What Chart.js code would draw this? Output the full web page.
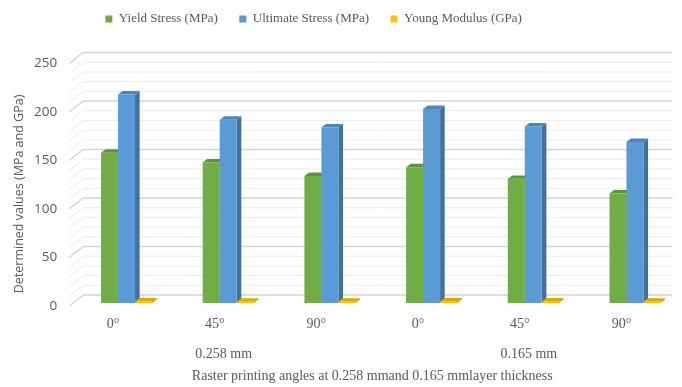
<!DOCTYPE html>
<html>
<head>
<meta charset="utf-8">
<script src="https://cdn.jsdelivr.net/npm/chart.js@4"></script>
<style>
  html, body { margin: 0; padding: 0; background: #ffffff; }
  #wrap { width: 682px; height: 387px; position: relative; }
</style>
</head>
<body>
<div id="wrap"><canvas id="chart"></canvas></div>
<script>
// Raster angle categories and the layer thickness each group belongs to
const angles = ['0°', '45°', '90°', '0°', '45°', '90°'];
const thicknessLabels = ['', '0.258 mm', '', '', '0.165 mm', ''];

// Measured values per specimen
const yieldStress = [155, 145, 131, 140, 128, 113];
const ultimateStress = [215, 189, 181, 200, 182, 166];
const youngModulus = [1.6, 1.5, 1.5, 1.7, 1.6, 1.5];

const seriesNames = ['Yield Stress (MPa)', 'Ultimate Stress (MPa)', 'Young Modulus (GPa)'];

// Value axis range and gridline spacing
const yMin = 0, yMax = 250, yMajorStep = 50, yMinorStep = 10;

const TEXT = '#595959';
const SERIF = "'Liberation Serif', serif";
const SANS = "'Open Sans', sans-serif";

// Depth of the 3-D columns and of the back wall
const BAR_DX = 4.6, BAR_DY = 3.4;
const WALL_DX = 14, WALL_FRONT = 3, WALL_BACK = 8, WALL_RIGHT = 672.5;

// Back wall gridlines plus the side/top faces of each column
const depthPlugin = {
  id: 'columnDepth',
  beforeDatasetsDraw(chart) {
    const ctx = chart.ctx;
    const ys = chart.scales.y;
    const area = chart.chartArea;
    ctx.save();
    for (let v = yMin; v <= yMax; v += yMinorStep) {
      const y = ys.getPixelForValue(v);
      const major = v % yMajorStep === 0;
      ctx.strokeStyle = major ? '#d4d4d4' : '#ebebeb';
      ctx.lineWidth = major ? 1.4 : 1;
      const fx = area.left + 2, fy = y + WALL_FRONT;
      const bx = fx + WALL_DX, by = y - WALL_BACK;
      ctx.beginPath();
      ctx.moveTo(fx, fy);
      ctx.lineTo(bx, by);
      ctx.lineTo(WALL_RIGHT, by);
      ctx.stroke();
    }
    chart.data.datasets.forEach((ds, i) => {
      if (!ds.sideColor) return;
      const meta = chart.getDatasetMeta(i);
      meta.data.forEach(bar => {
        const p = bar.getProps(['x', 'y', 'base', 'width'], true);
        const l = p.x - p.width / 2, r = p.x + p.width / 2;
        ctx.fillStyle = ds.sideColor;
        ctx.beginPath();
        ctx.moveTo(r, p.y);
        ctx.lineTo(r + BAR_DX, p.y - BAR_DY);
        ctx.lineTo(r + BAR_DX, p.base - BAR_DY);
        ctx.lineTo(r, p.base);
        ctx.closePath();
        ctx.fill();
        ctx.fillStyle = ds.topColor;
        ctx.beginPath();
        ctx.moveTo(l, p.y);
        ctx.lineTo(l + BAR_DX, p.y - BAR_DY);
        ctx.lineTo(r + BAR_DX, p.y - BAR_DY);
        ctx.lineTo(r, p.y);
        ctx.closePath();
        ctx.fill();
      });
    });
    ctx.restore();
  }
};

new Chart(document.getElementById('chart'), {
  type: 'bar',
  data: {
    labels: angles,
    datasets: [
      { label: '', data: angles.map(() => null), backgroundColor: 'rgba(0,0,0,0)' },
      { label: seriesNames[0], data: yieldStress, backgroundColor: '#70ad47', sideColor: '#4f7d31', topColor: '#5e9439' },
      { label: seriesNames[1], data: ultimateStress, backgroundColor: '#5b9bd5', sideColor: '#41719c', topColor: '#4a85bd' },
      { label: seriesNames[2], data: youngModulus, backgroundColor: '#ffc000', sideColor: '#c69500', topColor: '#e0a900' }
    ]
  },
  options: {
    responsive: true,
    maintainAspectRatio: false,
    animation: false,
    layout: { padding: { left: -50, right: 4.7, top: -9, bottom: 0 } },
    datasets: { bar: { categoryPercentage: 0.6686, barPercentage: 1, borderWidth: 0, xAxisID: 'x', yAxisID: 'y' } },
    plugins: {
      tooltip: { enabled: false },
      legend: {
        position: 'top',
        labels: {
          filter: item => item.text !== '',
          boxWidth: 7,
          boxHeight: 7,
          padding: 21.5,
          color: TEXT,
          font: { family: SERIF, size: 13 }
        }
      }
    },
    scales: {
      x: {
        weight: 0,
        grid: { display: false, drawTicks: false },
        border: { display: false },
        ticks: {
          color: TEXT,
          font: { family: SERIF, size: 14 },
          padding: 12.5,
          labelOffset: -5,
          maxRotation: 0,
          autoSkip: false
        },
        afterFit: s => { s.height = 38; }
      },
      // layer thickness row under the angle labels
      group: {
        type: 'category',
        position: 'bottom',
        weight: 1,
        labels: thicknessLabels,
        grid: { display: false, drawTicks: false },
        border: { display: false },
        ticks: {
          color: TEXT,
          font: { family: SERIF, size: 14 },
          padding: 4.6,
          labelOffset: 4,
          maxRotation: 0,
          autoSkip: false
        },
        title: {
          display: true,
          text: 'Raster printing angles at 0.258 mmand 0.165 mmlayer thickness',
          color: TEXT,
          font: { family: SERIF, size: 14 },
          padding: { top: 0, bottom: 2 }
        },
        afterFit: s => { s.height = 46; }
      },
      // spacer band between the legend and the plot
      gap: {
        type: 'category',
        position: 'top',
        grid: { display: false, drawTicks: false },
        border: { display: false },
        ticks: { display: false },
        afterFit: s => { s.height = 25; }
      },
      y: {
        min: yMin,
        max: yMax,
        grid: { display: false, drawTicks: false },
        border: { display: false },
        ticks: {
          stepSize: yMajorStep,
          color: TEXT,
          font: { family: SANS, size: 13.5 },
          padding: 10,
          labelOffset: WALL_FRONT
        },
        title: {
          display: true,
          align: 'start',
          text: '   Determined values (MPa and GPa)',
          color: TEXT,
          font: { family: SANS, size: 12.5 },
          padding: { top: 62, bottom: 0 }
        },
        afterFit: s => { s.width = 117.2; }
      }
    }
  },
  plugins: [depthPlugin]
});
</script>
</body>
</html>
